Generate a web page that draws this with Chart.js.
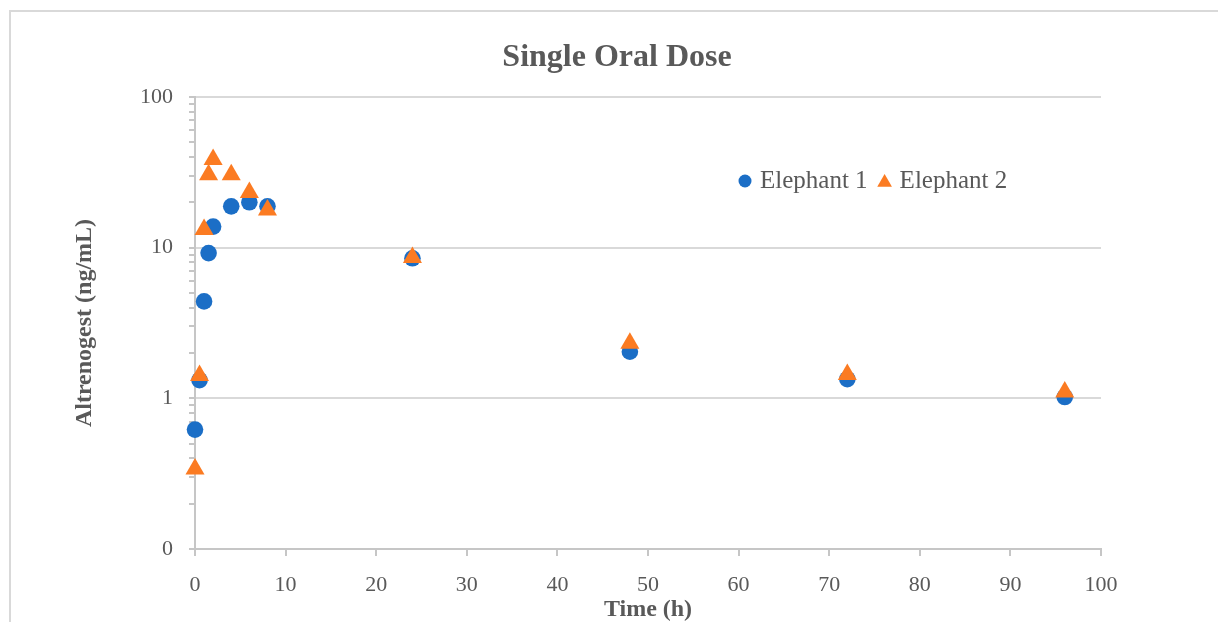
<!DOCTYPE html>
<html>
<head>
<meta charset="utf-8">
<script src="https://cdn.jsdelivr.net/npm/chart.js@4/dist/chart.umd.min.js"></script>
<style>
  html, body { margin: 0; padding: 0; background: #fff; }
  #wrap { position: relative; width: 1218px; height: 622px; overflow: hidden; }
  #frame { position: absolute; left: 9px; top: 10px; width: 1300px; height: 700px;
           border-left: 2px solid #d9d9d9; border-top: 2px solid #d9d9d9; box-sizing: border-box; }
  canvas { position: absolute; left: 0; top: 0; }
</style>
</head>
<body>
<div id="wrap">
  <div id="frame"></div>
  <canvas id="c" width="1218" height="622"></canvas>
</div>
<script>
// ---- data ----
const chartTitle = "Single Oral Dose";
const xTitle = "Time (h)";
const yTitle = "Altrenogest (ng/mL)";
const seriesNames = ["Elephant 1", "Elephant 2"];

const timesE1 = [0, 0.5, 1, 1.5, 2, 4, 6, 8, 24, 48, 72, 96];
const valuesE1 = [0.62, 1.32, 4.4, 9.2, 13.8, 18.8, 20.0, 18.8, 8.5, 2.04, 1.34, 1.02];

const timesE2 = [0, 0.5, 1, 1.5, 2, 4, 6, 8, 24, 48, 72, 96];
const valuesE2 = [0.34, 1.42, 13.2, 30.5, 38.5, 30.5, 23.2, 17.8, 8.6, 2.32, 1.44, 1.10];

const xTickValues = [0, 10, 20, 30, 40, 50, 60, 70, 80, 90, 100];
const yMajorTicks = [0.1, 1, 10, 100];
const yMajorLabels = ["0", "1", "10", "100"];
const yMinorTicks = [0.2, 0.3, 0.4, 0.5, 0.6, 0.7, 0.8, 0.9,
                     2, 3, 4, 5, 6, 7, 8, 9,
                     20, 30, 40, 50, 60, 70, 80, 90];

// ---- style ----
const FONT = "'Liberation Serif', 'Times New Roman', serif";
const TEXT = "#595959";
const BLUE = "#1b6ec6";
const ORANGE = "#fb7b22";

function toPts(xs, ys) { return xs.map((x, i) => ({ x: x, y: ys[i] })); }

const legendPlugin = {
  id: 'customLegend',
  afterDraw(chart) {
    const ctx = chart.ctx;
    ctx.save();
    ctx.font = "25px " + FONT;
    ctx.textBaseline = "middle";
    const y = 181;
    let x = 745;
    chart.data.datasets.forEach((ds, i) => {
      ctx.fillStyle = ds.backgroundColor;
      ctx.strokeStyle = ds.backgroundColor;
      ctx.lineWidth = 0.01;
      Chart.helpers.drawPoint(ctx, {
        pointStyle: ds.pointStyle, radius: i === 0 ? 6.5 : 8.5, rotation: 0, borderWidth: 0
      }, x, y + (i === 0 ? 0 : 1.5));
      ctx.fillStyle = TEXT;
      ctx.textAlign = "left";
      ctx.fillText(ds.label, x + 15, y);
      x += 15 + ctx.measureText(ds.label).width + 17;
    });
    ctx.restore();
  }
};

const ctx = document.getElementById('c').getContext('2d');
new Chart(ctx, {
  type: 'scatter',
  data: {
    datasets: [
      {
        label: seriesNames[0],
        data: toPts(timesE1, valuesE1),
        pointStyle: 'circle',
        pointRadius: 8.3,
        pointHoverRadius: 8.3,
        backgroundColor: BLUE,
        borderColor: BLUE,
        borderWidth: 0,
        clip: false,
        order: 2
      },
      {
        label: seriesNames[1],
        data: toPts(timesE2, valuesE2),
        pointStyle: 'triangle',
        pointRadius: 11,
        pointHoverRadius: 11,
        backgroundColor: ORANGE,
        borderColor: ORANGE,
        borderWidth: 0,
        clip: false,
        order: 1
      }
    ]
  },
  options: {
    responsive: false,
    animation: false,
    devicePixelRatio: 1,
    layout: { padding: { left: 16, right: 0, top: 0, bottom: 0 } },
    plugins: {
      legend: { display: false },
      tooltip: { enabled: false },
      title: {
        display: true,
        text: chartTitle,
        color: TEXT,
        font: { family: FONT, size: 32, weight: 'bold', lineHeight: 1.2 },
        padding: { top: 39, bottom: 19.6 }
      }
    },
    scales: {
      x: {
        type: 'linear',
        min: 0, max: 100,
        afterBuildTicks(scale) { scale.ticks = xTickValues.map(v => ({ value: v })); },
        afterFit(scale) { scale.height = 73; },
        border: { display: true, color: '#c6c6c6', width: 2 },
        grid: { display: true, drawOnChartArea: false, drawTicks: true, tickLength: 7, color: '#c6c6c6', lineWidth: 2 },
        ticks: {
          color: TEXT, padding: 16, maxRotation: 0, autoSkip: false,
          font: { family: FONT, size: 22, lineHeight: 1.2 },
          callback: (v) => String(v)
        },
        title: {
          display: true, text: xTitle, color: TEXT,
          font: { family: FONT, size: 24, weight: 'bold', lineHeight: 1.0 },
          padding: { top: 0, bottom: 0 }
        }
      },
      y: {
        type: 'logarithmic',
        position: 'left',
        min: 0.1, max: 100,
        afterBuildTicks(scale) {
          const all = yMajorTicks.concat(yMinorTicks).sort((a, b) => a - b);
          scale.ticks = all.map(v => ({ value: v, major: yMajorTicks.includes(v) }));
        },
        afterFit(scale) { scale.width = 179; },
        border: { display: true, color: '#c6c6c6', width: 2 },
        grid: {
          display: true, drawTicks: true, tickLength: 6,
          color: (c) => (c.tick && yMajorTicks.includes(c.tick.value)) ? '#d9d9d9' : 'rgba(0,0,0,0)',
          tickColor: '#c6c6c6',
          lineWidth: 2
        },
        ticks: {
          color: TEXT, padding: 16, autoSkip: false,
          font: { family: FONT, size: 22, lineHeight: 1.2 },
          callback: (v) => {
            const i = yMajorTicks.indexOf(v);
            return i >= 0 ? yMajorLabels[i] : '';
          }
        },
        title: {
          display: true, text: yTitle, color: TEXT,
          font: { family: FONT, size: 24, weight: 'bold', lineHeight: 1.2 },
          padding: { top: 54, bottom: 0 }
        }
      },
      ySpacer: {
        type: 'linear',
        position: 'right',
        display: true,
        afterFit(scale) { scale.width = 117; },
        border: { display: false },
        grid: { display: false, drawTicks: false },
        ticks: { display: false },
        title: { display: false }
      }
    }
  },
  plugins: [legendPlugin]
});
</script>
</body>
</html>
